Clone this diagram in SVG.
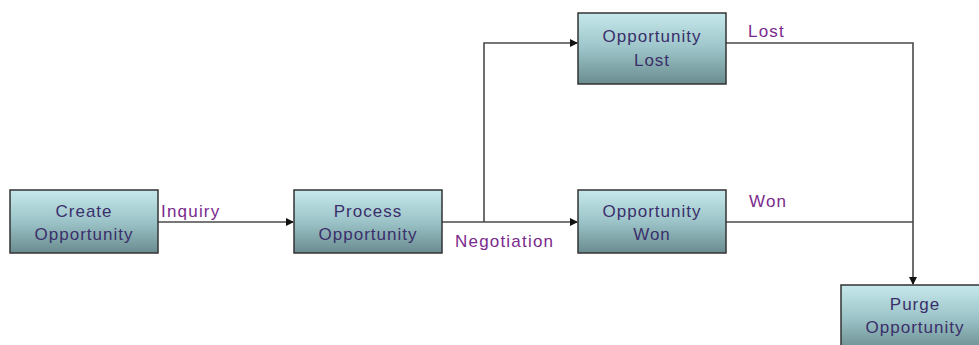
<svg xmlns="http://www.w3.org/2000/svg" width="979" height="345" viewBox="0 0 979 345">
<style>
.box{fill:url(#g);stroke:#333;stroke-width:1.5}
.nt{font-family:"Liberation Sans",Arial,sans-serif;font-size:17px;letter-spacing:1px;fill:#3a2f6a;text-anchor:middle}
.lb{font-family:"Liberation Sans",Arial,sans-serif;font-size:17px;letter-spacing:1.2px;fill:#7a2a8c}
.c{fill:none;stroke:#4a4a4a;stroke-width:1.6}
</style>
<defs>
<linearGradient id="g" x1="0" y1="0" x2="0" y2="1">
<stop offset="0" stop-color="#c6e8ec"/>
<stop offset="0.5" stop-color="#9cc4c8"/>
<stop offset="1" stop-color="#6a8c90"/>
</linearGradient>
<marker id="a" markerWidth="8" markerHeight="8" refX="7" refY="4" orient="auto" markerUnits="userSpaceOnUse">
<path d="M0,0 L8,4 L0,8 Z" fill="#111"/>
</marker>
</defs>
<rect width="979" height="345" fill="#fff"/>
<g id="connectors">
<path class="c" d="M158,222 H293" marker-end="url(#a)"/>
<path class="c" d="M442,222 H577" marker-end="url(#a)"/>
<path class="c" d="M484,222 V43 H577" marker-end="url(#a)"/>
<path class="c" d="M726,43 H913 V284" marker-end="url(#a)"/>
<path class="c" d="M726,222 H913"/>
<text class="lb" x="161" y="217">Inquiry</text>
<text class="lb" x="455" y="247">Negotiation</text>
<text class="lb" x="748" y="37">Lost</text>
<text class="lb" x="749" y="207">Won</text>
</g>
<g id="create">
<rect class="box" x="10" y="190" width="148" height="63"/>
<text class="nt" x="84" y="217">Create</text>
<text class="nt" x="84" y="240">Opportunity</text>
</g>
<g id="process">
<rect class="box" x="294" y="190" width="148" height="63"/>
<text class="nt" x="368" y="217">Process</text>
<text class="nt" x="368" y="240">Opportunity</text>
</g>
<g id="lost">
<rect class="box" x="578" y="13" width="148" height="71"/>
<text class="nt" x="652" y="42">Opportunity</text>
<text class="nt" x="652" y="66">Lost</text>
</g>
<g id="won">
<rect class="box" x="578" y="190" width="148" height="63"/>
<text class="nt" x="652" y="217">Opportunity</text>
<text class="nt" x="652" y="240">Won</text>
</g>
<g id="purge">
<rect class="box" x="841" y="285" width="148" height="66"/>
<text class="nt" x="915" y="310">Purge</text>
<text class="nt" x="915" y="333">Opportunity</text>
</g>
</svg>
